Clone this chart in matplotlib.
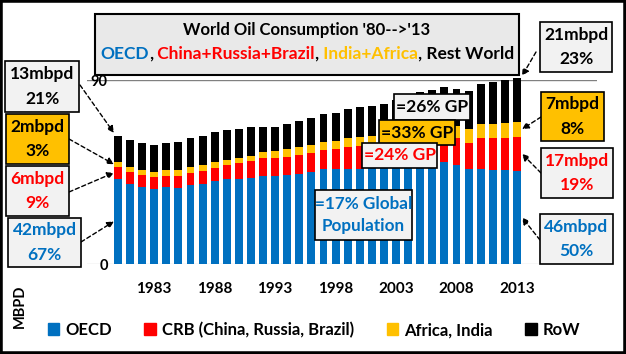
import matplotlib
matplotlib.use('Agg')
import matplotlib.pyplot as plt
from matplotlib.patches import Rectangle, Patch
import numpy as np

# ---------------- data ----------------
years = list(range(1980, 2014))
oecd = [41.7, 39.3, 37.8, 36.8, 37.8, 37.3, 38.6, 39.3, 40.8, 41.5,
        41.6, 41.9, 43.2, 43.2, 43.5, 44.0, 45.0, 46.3, 46.3, 46.3,
        46.6, 46.8, 47.3, 48.2, 49.3, 50.0, 49.9, 49.7, 48.4, 46.3,
        46.3, 46.0, 46.0, 45.5]
crb = [5.9, 5.9, 5.9, 5.9, 5.4, 5.9, 6.1, 6.3, 6.3, 6.9,
       7.7, 8.5, 8.5, 8.5, 9.0, 9.3, 9.5, 9.5, 9.8, 10.9,
       11.1, 11.2, 11.1, 11.1, 11.3, 11.5, 11.1, 11.6, 13.1, 12.7,
       15.5, 15.5, 15.5, 16.8]
africa_india = [2.4, 2.4, 2.4, 2.5, 2.9, 2.9, 2.8, 3.0, 2.9, 2.4,
                2.4, 2.3, 2.9, 3.6, 3.8, 3.9, 3.7, 4.0, 4.2, 4.3,
                4.3, 4.4, 4.6, 4.7, 4.6, 4.5, 5.5, 5.7, 6.0, 7.0,
                6.7, 7.0, 7.6, 7.3]
row = [12.8, 13.1, 13.2, 13.0, 13.2, 13.7, 14.1, 14.2, 14.7, 14.8,
       14.3, 14.3, 12.4, 11.7, 12.2, 12.8, 13.2, 13.6, 13.6, 14.3,
       14.8, 15.0, 15.1, 16.0, 17.4, 18.3, 18.6, 19.4, 18.0, 18.6,
       19.4, 20.7, 20.9, 21.4]
tick_years = [1983, 1988, 1993, 1998, 2003, 2008, 2013]
series_names = ['OECD', 'CRB (China, Russia, Brazil)', 'Africa, India', 'RoW']

BLUE = '#0070C0'
RED = '#FF0000'
GOLD = '#FFC000'
BLACK = '#000000'
GREY = '#F2F2F2'

W, H = 626, 354
plt.rcParams['font.family'] = ['Lato', 'DejaVu Sans']
plt.rcParams['font.weight'] = 'bold'

fig = plt.figure(figsize=(W / 100, H / 100), dpi=100)


def fx(px):
    return px / W


def fy(py):
    return 1 - py / H


ax = fig.add_axes([fx(87), fy(264), (597 - 87) / W, (264 - 80) / H])
ax.set_facecolor('none')

series = [oecd, crb, africa_india, row]
colors = [BLUE, RED, GOLD, BLACK]
bottom = np.zeros(len(years))
for vals, col, name in zip(series, colors, series_names):
    ax.bar(years, vals, width=0.66, bottom=bottom, color=col, label=name,
           clip_on=False, zorder=2, linewidth=0)
    bottom = bottom + np.array(vals)
totals = bottom

ax.set_xlim(1977.44, 2019.62)
ax.set_ylim(0, 90)
ax.set_yticks([0, 90])
ax.set_xticks(tick_years)
for s in ax.spines.values():
    s.set_visible(False)
ax.axhline(90, color='#808080', lw=1, zorder=1)
ax.axhline(0, color='#D9D9D9', lw=1, zorder=1)
ax.tick_params(axis='y', length=0, pad=-15, labelsize=10.5)
ax.tick_params(axis='x', length=0, pad=13, labelsize=11)

# figure border
fig.add_artist(Rectangle((0, 0), 1, 1, transform=fig.transFigure, fill=False,
                         ec='black', lw=4, zorder=10))

# title box
fig.add_artist(Rectangle((fx(95), fy(75)), fx(519) - fx(95), (75 - 14) / H,
                         transform=fig.transFigure, fc='#E9E9E9', ec='black',
                         lw=1.5, zorder=5))
fig.text(fx(307), fy(30), "World Oil Consumption '80-->'13", ha='center',
         va='center', fontsize=12, color='black', zorder=6)

pieces = [("OECD", BLUE), (",", BLACK), (" China+Russia+Brazil", RED), (",", BLACK),
          (" India+Africa", GOLD), (", Rest World", BLACK)]
renderer = fig.canvas.get_renderer()
txts = []
widths = []
for s, c in pieces:
    t = fig.text(0, fy(54), s, ha='left', va='center', fontsize=12.5, color=c, zorder=6)
    txts.append(t)
    widths.append(t.get_window_extent(renderer).width)
total_w = sum(widths)
xpos = 307 - total_w / 2
for t, w in zip(txts, widths):
    t.set_x(fx(xpos))
    xpos += w


def box(x0, y0, x1, y1, fc, lines, color, fs=12.5, gap=12):
    fig.add_artist(Rectangle((fx(x0), fy(y1)), fx(x1) - fx(x0), (y1 - y0) / H,
                             transform=fig.transFigure, fc=fc, ec='black', lw=1.2, zorder=5))
    cx = (x0 + x1) / 2
    cy = (y0 + y1) / 2
    n = len(lines)
    for i, ln in enumerate(lines):
        off = (i - (n - 1) / 2) * 2 * gap
        fig.text(fx(cx), fy(cy + off), ln, ha='center', va='center',
                 fontsize=fs, color=color, zorder=6)


# left boxes
box(5, 61, 79, 112, GREY, ['13mbpd', '21%'], BLACK)
box(6, 114, 69, 164, GOLD, ['2mbpd', '3%'], BLACK)
box(6, 166, 69, 216, GREY, ['6mbpd', '9%'], RED)
box(8, 218, 81, 267, GREY, ['42mbpd', '67%'], BLUE)
# right boxes
box(540, 22, 612, 72, GREY, ['21mbpd', '23%'], BLACK)
box(541, 92, 604, 141, GOLD, ['7mbpd', '8%'], BLACK)
box(541, 148, 613, 198, GREY, ['17mbpd', '19%'], RED)
box(540, 214, 613, 264, GREY, ['46mbpd', '50%'], BLUE)
# GP boxes
box(394, 94, 470, 120, GREY, ['=26% GP'], BLACK)
box(379, 120, 455, 145, GOLD, ['=33% GP'], BLACK)
box(362, 143, 437, 168, GREY, ['=24% GP'], RED)
box(315, 190, 412, 240, GREY, ['=17% Global', 'Population'], BLUE, fs=12.3, gap=11)

# arrows
aprops = dict(arrowstyle='-|>', linestyle=(0, (3, 2)), color='black', lw=1,
              mutation_scale=10, shrinkA=0, shrinkB=0)
c1 = np.array(oecd)
c2 = c1 + np.array(crb)
c3 = c2 + np.array(africa_india)
first_x = years[0] - 0.33
last_x = years[-1] + 0.42
arrows = [
    ((80, 85), (first_x, totals[0] + 1.3)),
    ((69, 139), (first_x, (c2[0] + c3[0]) / 2)),
    ((69, 192), (first_x, (c1[0] + c2[0]) / 2)),
    ((81, 242), (first_x, c1[0] / 2)),
    ((536, 52), (last_x, totals[-1] + 1)),
    ((541, 117), (last_x, (c2[-1] + c3[-1]) / 2)),
    ((541, 173), (last_x, (c1[-1] + c2[-1]) / 2)),
    ((540, 240), (last_x, c1[-1] / 2)),
]
for (px, py), tip in arrows:
    ax.annotate('', xy=tip, xycoords='data', xytext=(px, H - py),
                textcoords='figure pixels', arrowprops=aprops,
                annotation_clip=False, zorder=4)

# MBPD label
fig.text(fx(20), fy(306), 'MBPD', rotation=90, ha='center', va='center', fontsize=10.5)

# legend
handles = [Patch(color=c) for c in colors]
fig.legend(handles, series_names, loc='center', bbox_to_anchor=(fx(314), fy(330)),
           ncol=4, frameon=False, fontsize=12, handlelength=0.7, handleheight=0.7,
           handletextpad=0.35, columnspacing=1.95)

fig.savefig('out.png', dpi=100)
